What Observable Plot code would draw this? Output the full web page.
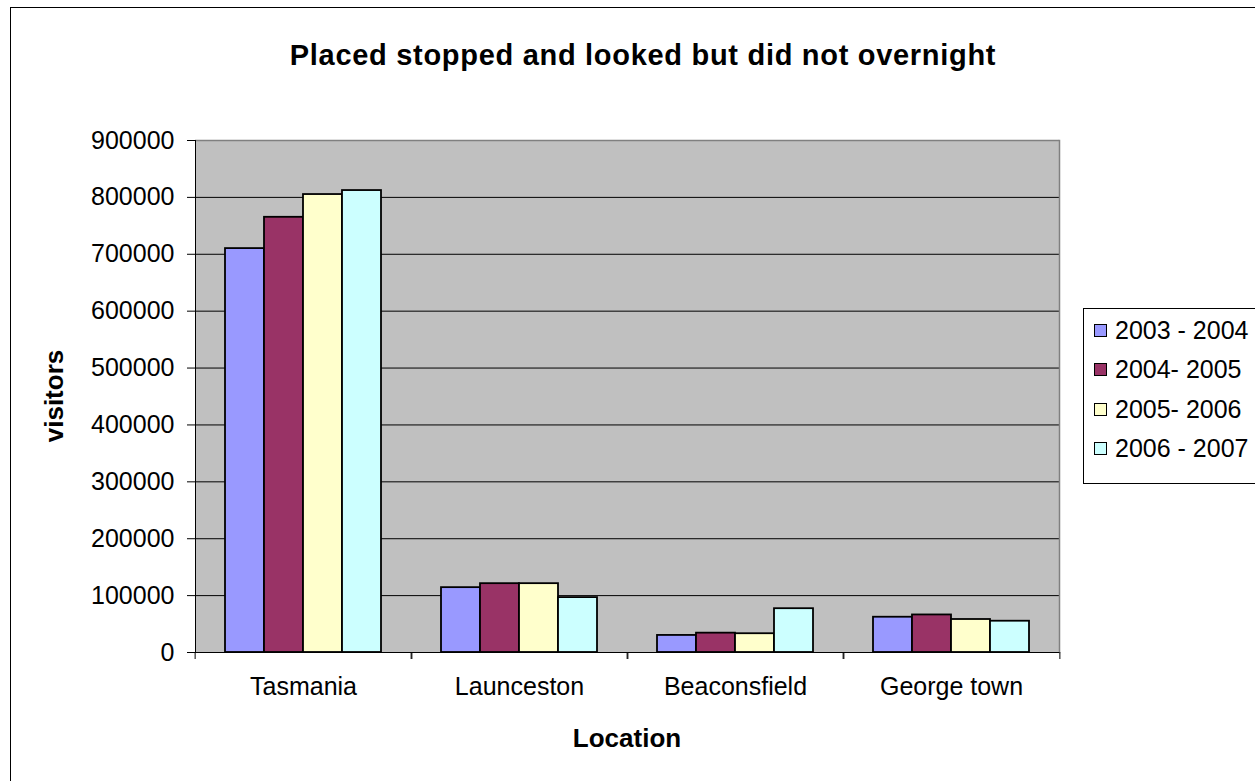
<!DOCTYPE html>
<html><head><meta charset="utf-8">
<script src="https://cdn.jsdelivr.net/npm/d3@7"></script>
<script src="https://cdn.jsdelivr.net/npm/@observablehq/plot@0.6"></script>
<style>
html,body{margin:0;padding:0;background:#fff;overflow:hidden;}
body{width:1255px;height:781px;position:relative;font-family:"Liberation Sans",Arial,sans-serif;color:#000;}
#border{position:absolute;left:10px;top:7px;width:1400px;height:900px;border-left:1px solid #000;border-top:1px solid #000;}
#chart{position:absolute;left:0;top:0;}
#title{position:absolute;left:0;width:1286px;text-align:center;top:40px;font-weight:bold;font-size:29px;line-height:30px;letter-spacing:0.7px;white-space:nowrap;}
#xlabel{position:absolute;left:0;width:1254px;text-align:center;top:723px;font-weight:bold;font-size:26px;line-height:30px;}
#ylabel{position:absolute;left:54px;top:396px;transform:translate(-50%,-50%) rotate(-90deg);font-weight:bold;font-size:26px;line-height:30px;white-space:nowrap;}
#legend{position:absolute;left:1083px;top:308px;width:400px;height:174px;border:1px solid #000;}
.item{position:absolute;left:10px;height:30px;display:flex;align-items:center;white-space:nowrap;font-size:25px;}
.sw{width:11px;height:11px;border:1.5px solid #000;margin-right:8px;}
</style></head>
<body>
<div id="border"></div>
<div id="chart"></div>
<div id="title">Placed stopped and looked but did not overnight</div>
<div id="xlabel">Location</div>
<div id="ylabel">visitors</div>
<div id="legend"></div>
<script>
const locations = ["Tasmania", "Launceston", "Beaconsfield", "George town"];
const seriesNames = ["2003 - 2004", "2004- 2005", "2005- 2006", "2006 - 2007"];
const values2003 = [710000, 114000, 30000, 62000];
const values2004 = [765000, 121000, 34000, 66000];
const values2005 = [805000, 121000, 33000, 58000];
const values2006 = [812000, 96500, 77000, 55000];
const seriesColors = ["#9999FF", "#993366", "#FFFFCC", "#CCFFFF"];
const yTicks = [0, 100000, 200000, 300000, 400000, 500000, 600000, 700000, 800000, 900000];

const allValues = [values2003, values2004, values2005, values2006];
const data = [];
locations.forEach((loc, i) => {
  seriesNames.forEach((s, j) => data.push({location: loc, series: s, value: allValues[j][i]}));
});

const W = 1255, H = 781, ML = 193, MR = 195, MT = 140, MB = 129;
const step = (W - ML - MR) / locations.length;

const chart = Plot.plot({
  width: W, height: H,
  marginLeft: ML, marginRight: MR, marginTop: MT, marginBottom: MB,
  style: {fontFamily: "Liberation Sans, Arial, sans-serif", fontSize: "25px", background: "transparent", color: "#000", overflow: "visible"},
  fx: {domain: locations, padding: 0, label: null},
  x: {domain: seriesNames, paddingInner: 0, paddingOuter: 0.72, axis: null},
  y: {domain: [0, 900000], label: null},
  color: {domain: seriesNames, range: seriesColors},
  marks: [
    Plot.frame({fill: "#c0c0c0", stroke: "none", insetLeft: -0.6, insetRight: -0.6, shapeRendering: "crispEdges"}),
    Plot.ruleY(yTicks.filter(d => d > 0 && d < 900000), {stroke: "#000", strokeWidth: 1}),
    Plot.ruleY([900000], {stroke: "#808080", strokeWidth: 1.5}),
    Plot.frame({anchor: "right", facetAnchor: "right", stroke: "#808080", strokeWidth: 1.5}),
    Plot.barY(data, {fx: "location", x: "series", y: "value", fill: "series", stroke: "#000", strokeWidth: 1.8}),
    Plot.ruleY([0], {stroke: "#000", strokeWidth: 1}),
    Plot.frame({anchor: "left", facetAnchor: "left", stroke: "#000", strokeWidth: 1}),
    Plot.axisY({ticks: yTicks, tickSize: 8, tickPadding: 13, tickFormat: d => String(d), label: null, fontSize: 25}),
    Plot.axisFx({anchor: "bottom", tickSize: 0, tickPadding: 25, label: null, fontSize: 25}),
    Plot.axisFx({anchor: "bottom", tickSize: 7, fill: "none", label: null, dx: -step / 2}),
    Plot.axisFx({anchor: "bottom", tickSize: 7, fill: "none", label: null, dx: step / 2})
  ]
});
document.getElementById("chart").appendChild(chart);

const legend = document.getElementById("legend");
const rowCenters = [21, 60, 100, 139];
seriesNames.forEach((s, i) => {
  const it = document.createElement("div");
  it.className = "item";
  it.style.top = (rowCenters[i] - 15) + "px";
  const sw = document.createElement("div");
  sw.className = "sw";
  sw.style.background = seriesColors[i];
  const tx = document.createElement("span");
  tx.textContent = s;
  it.appendChild(sw); it.appendChild(tx);
  legend.appendChild(it);
});
</script>
</body></html>
